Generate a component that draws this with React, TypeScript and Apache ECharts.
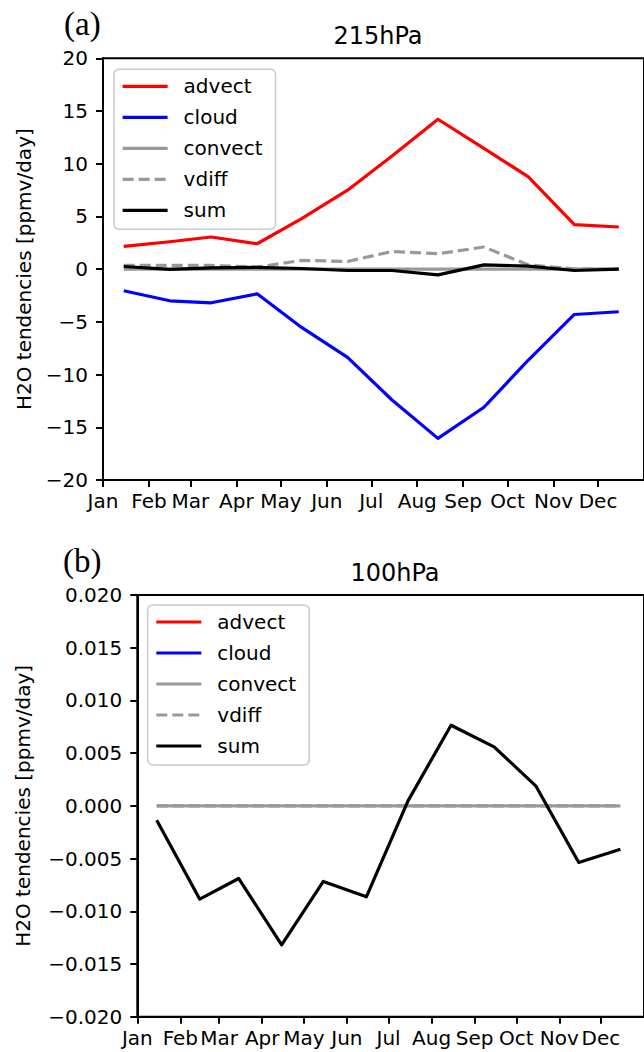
import React, { useEffect, useRef } from "react";
import * as echarts from "echarts";

const monthNames = ["Jan", "Feb", "Mar", "Apr", "May", "Jun", "Jul", "Aug", "Sep", "Oct", "Nov", "Dec"];
const monthStartDays = [0, 31, 59, 90, 120, 151, 181, 212, 243, 273, 304, 334];
const monthMidDays = [14, 45, 73, 104, 134, 165, 195, 226, 257, 287, 318, 348];

const seriesNames = ["advect", "cloud", "convect", "vdiff", "sum"];

// 215 hPa
const advect215 = [2.16, 2.6, 3.05, 2.41, 4.79, 7.49, 10.73, 14.22, 11.46, 8.76, 4.22, 4.0];
const cloud215 = [-2.05, -3.0, -3.19, -2.34, -5.53, -8.37, -12.41, -16.05, -13.1, -8.62, -4.3, -4.04];
const convect215 = [0.0, 0.0, 0.0, 0.0, 0.0, 0.0, 0.0, 0.0, 0.0, 0.0, 0.0, 0.0];
const vdiff215 = [0.35, 0.35, 0.35, 0.2, 0.83, 0.73, 1.68, 1.46, 2.1, 0.4, 0.03, 0.0];
const sum215 = [0.25, -0.03, 0.13, 0.16, 0.06, -0.13, -0.13, -0.54, 0.41, 0.29, -0.13, 0.0];

// 100 hPa (advect and cloud are off the plotted range)
const advect100 = [null, null, null, null, null, null, null, null, null, null, null, null];
const cloud100 = [null, null, null, null, null, null, null, null, null, null, null, null];
const convect100 = [0, 0, 0, 0, 0, 0, 0, 0, 0, 0, 0, 0];
const vdiff100 = [0, 0, 0, 0, 0, 0, 0, 0, 0, 0, 0, 0];
const sum100 = [-0.00136, -0.00885, -0.00689, -0.01318, -0.00717, -0.00863, 0.00047, 0.00765, 0.00559, 0.0019, -0.00537, -0.00411];

const panelTitles = ["215hPa", "100hPa"];
const panelLetters = ["(a)", "(b)"];
const yLabel = "H2O tendencies [ppmv/day]";

const FONT = "DejaVu Sans";
const colors: Record<string, string> = {
  advect: "#ff0000",
  cloud: "#0000ff",
  convect: "#999999",
  vdiff: "#999999",
  sum: "#000000",
};

function minusFmt(s: string) {
  return s.replace("-", "\u2212");
}

function pairs(vals: (number | null)[]) {
  return monthMidDays.map((d, i) => [d, vals[i]]);
}

export default function App() {
  const ref = useRef<HTMLDivElement>(null);
  useEffect(() => {
    if (!ref.current) return;
    const chart = echarts.init(ref.current, undefined, { renderer: "svg" });

    const grids = [
      { left: 103, top: 58.3, right: -10, height: 421.7 },
      { left: 137.3, top: 595, right: -10, height: 421.7 },
    ];
    const panelData = [
      [advect215, cloud215, convect215, vdiff215, sum215],
      [advect100, cloud100, convect100, vdiff100, sum100],
    ];

    const spine = { color: "#000", width: 2 };

    const xAxes = grids.map((_, gi) => ({
      type: "value",
      gridIndex: gi,
      min: 0,
      max: 365,
      splitLine: { show: false },
      axisLine: { show: true, onZero: false, lineStyle: spine },
      axisTick: {
        show: true,
        customValues: monthStartDays,
        length: 7,
        lineStyle: spine,
      },
      axisLabel: {
        customValues: monthStartDays,
        color: "#000",
        fontFamily: FONT,
        fontSize: 20,
        margin: 11,
        hideOverlap: false,
        formatter: (v: number) => {
          const i = monthStartDays.indexOf(Math.round(v));
          return i >= 0 ? monthNames[i] : "";
        },
      },
    }));

    const yAxes = [
      {
        type: "value",
        gridIndex: 0,
        min: -20,
        max: 20,
        interval: 5,
        name: yLabel,
        nameLocation: "middle",
        nameGap: 69,
        nameTextStyle: { color: "#000", fontFamily: FONT, fontSize: 20 },
        splitLine: { show: false },
        axisLine: { show: true, onZero: false, lineStyle: spine },
        axisTick: { show: true, length: 7, lineStyle: spine },
        axisLabel: {
          color: "#000",
          fontFamily: FONT,
          fontSize: 20,
          margin: 15,
          showMinLabel: true,
          showMaxLabel: true,
          formatter: (v: number) => minusFmt(String(Math.round(v))),
        },
      },
      {
        type: "value",
        gridIndex: 1,
        min: -0.02,
        max: 0.02,
        interval: 0.005,
        name: yLabel,
        nameLocation: "middle",
        nameGap: 104,
        nameTextStyle: { color: "#000", fontFamily: FONT, fontSize: 20 },
        splitLine: { show: false },
        axisLine: { show: true, onZero: false, lineStyle: spine },
        axisTick: { show: true, length: 7, lineStyle: spine },
        axisLabel: {
          color: "#000",
          fontFamily: FONT,
          fontSize: 20,
          margin: 15,
          showMinLabel: true,
          showMaxLabel: true,
          formatter: (v: number) => {
            const r = Math.abs(v) < 1e-9 ? 0 : v;
            return minusFmt(r.toFixed(3));
          },
        },
      },
    ];

    const series: any[] = [];
    panelData.forEach((arrs, gi) => {
      arrs.forEach((vals, si) => {
        const name = seriesNames[si];
        series.push({
          type: "line",
          name,
          xAxisIndex: gi,
          yAxisIndex: gi,
          data: pairs(vals as (number | null)[]),
          symbol: "none",
          showSymbol: false,
          connectNulls: false,
          lineStyle: {
            color: colors[name],
            width: 3.2,
            type: name === "vdiff" ? [11, 5] : "solid",
            join: "round",
          },
          itemStyle: { color: colors[name] },
          z: 2 + si,
        });
      });
    });

    const legendBase = {
      orient: "vertical",
      data: seriesNames,
      itemWidth: 45,
      itemHeight: 14,
      itemGap: 11,
      padding: [7, 13, 9, 7],
      backgroundColor: "rgba(255,255,255,0.8)",
      borderColor: "#cccccc",
      borderWidth: 1.6,
      borderRadius: 5,
      selectedMode: false,
      itemStyle: { opacity: 0, color: "transparent", borderWidth: 0 },
      lineStyle: { width: 3.2, opacity: 1 },
      textStyle: {
        color: "#000",
        fontFamily: FONT,
        fontSize: 20,
        lineHeight: 20,
        padding: [0, 0, 0, 11],
      },
    };

    const option: any = {
      animation: false,
      backgroundColor: "#ffffff",
      grid: grids.map((g) => ({
        ...g,
        show: true,
        borderColor: "#000",
        borderWidth: 2,
        backgroundColor: "transparent",
        containLabel: false,
      })),
      xAxis: xAxes,
      yAxis: yAxes,
      title: [
        {
          text: panelTitles[0],
          left: 378,
          top: 24,
          textAlign: "center",
          padding: 0,
          textStyle: { color: "#000", fontFamily: FONT, fontSize: 24, fontWeight: "normal" },
        },
        {
          text: panelTitles[1],
          left: 395,
          top: 561,
          textAlign: "center",
          padding: 0,
          textStyle: { color: "#000", fontFamily: FONT, fontSize: 24, fontWeight: "normal" },
        },
      ],
      legend: [
        { ...legendBase, left: 114, top: 69.3 },
        { ...legendBase, left: 147.7, top: 605 },
      ],
      graphic: [
        {
          type: "text",
          left: 64,
          top: 7,
          style: { text: panelLetters[0], font: "33px 'Liberation Serif'", fill: "#000" },
        },
        {
          type: "text",
          left: 63,
          top: 544,
          style: { text: panelLetters[1], font: "33px 'Liberation Serif'", fill: "#000" },
        },
      ],
      series,
    };

    chart.setOption(option);
    return () => chart.dispose();
  }, []);

  return (
    <div
      style={{ position: "absolute", left: 0, top: 0, width: 644, height: 1052, overflow: "hidden", background: "#fff" }}
    >
      <div ref={ref} style={{ width: 644, height: 1052 }} />
    </div>
  );
}
